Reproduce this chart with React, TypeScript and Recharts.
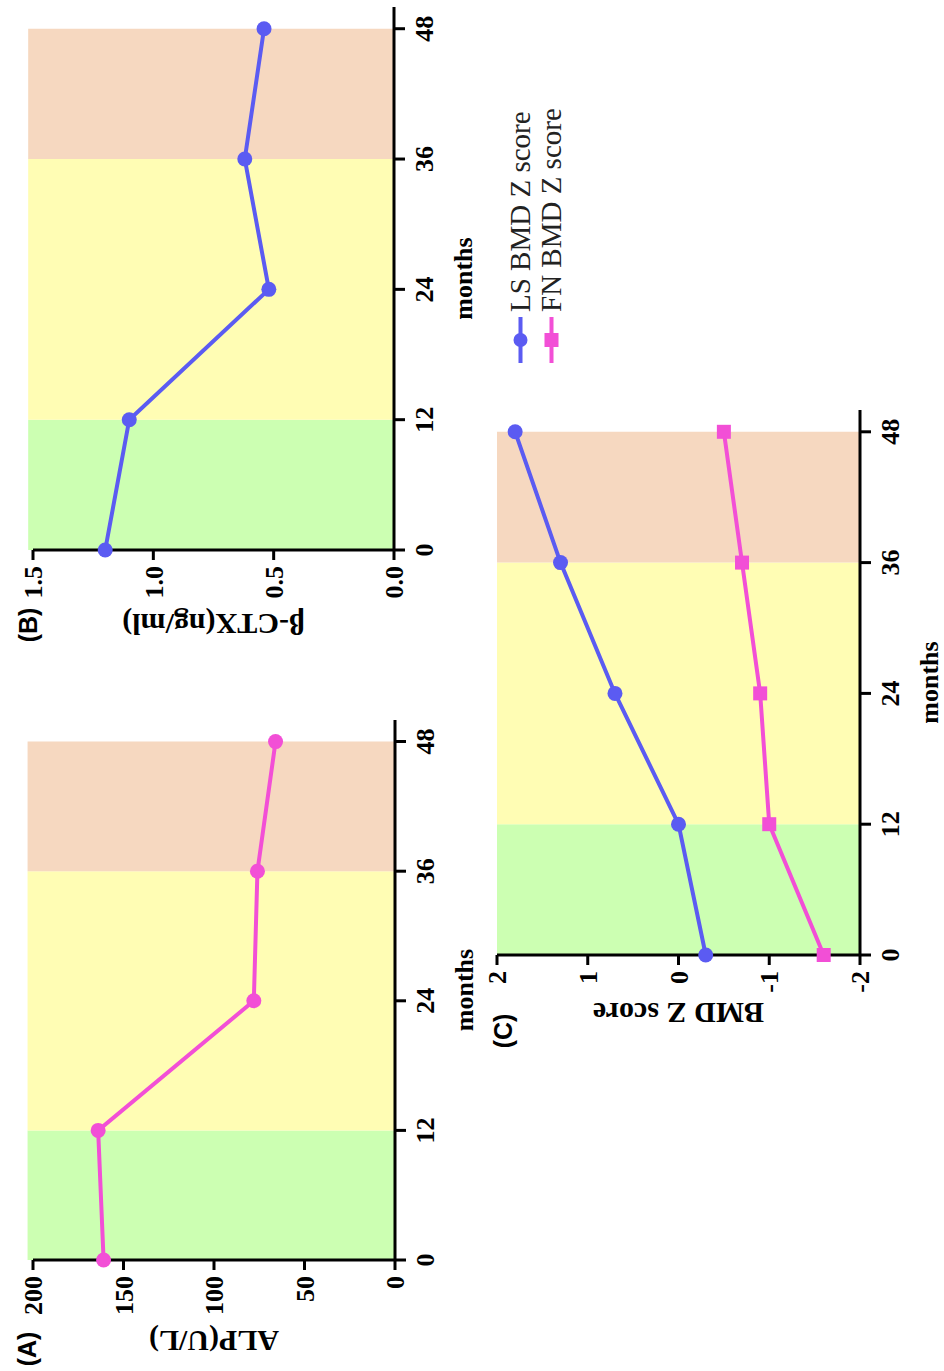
import React from 'react';
import { LineChart, Line, XAxis, YAxis, ReferenceArea, Legend } from 'recharts';

// ---- data ----
const months = [0, 12, 24, 36, 48];
const monthTicks = [0, 12, 24, 36, 48];
const alpValues = [161, 164, 78, 76, 66];
const ctxValues = [1.2, 1.1, 0.52, 0.62, 0.54];
const lsZValues = [-0.3, 0.0, 0.7, 1.3, 1.8];
const fnZValues = [-1.6, -1.0, -0.9, -0.7, -0.5];
const alpTicks = [0, 50, 100, 150, 200];
const ctxTicks = [0, 0.5, 1.0, 1.5];
const zTicks = [-2, -1, 0, 1, 2];
const legendOrder = ['ls', 'fn'];
const phases = [
  { from: 0, to: 12, color: '#CCFFB2' },
  { from: 12, to: 36, color: '#FFFDB4' },
  { from: 36, to: 48, color: '#F6D8C0' },
];

const alpData = months.map((m, i) => ({ month: m, alp: alpValues[i] }));
const ctxData = months.map((m, i) => ({ month: m, ctx: ctxValues[i] }));
const zData = months.map((m, i) => ({ month: m, ls: lsZValues[i], fn: fnZValues[i] }));

const BLUE = '#5B5BF2';
const PINK = '#F24FD6';
const SERIF = '"Liberation Serif", "Times New Roman", serif';
const SANS = '"Liberation Sans", Arial, sans-serif';

const tickStyle = { fill: '#000', fontSize: 26, fontFamily: SERIF, fontWeight: 'bold' as const };
const axisLineStyle = { stroke: '#000', strokeWidth: 3 };

const SquareDot = (props: any) => {
  const { cx, cy, index } = props;
  if (cx == null || cy == null) return null;
  return <rect key={`sq-${index}`} x={cx - 7} y={cy - 7} width={14} height={14} fill={PINK} />;
};

const LegendContent = (props: any) => {
  const items = [...(props.payload || [])].sort(
    (a: any, b: any) => legendOrder.indexOf(String(a.dataKey)) - legendOrder.indexOf(String(b.dataKey))
  );
  return (
    <div>
      {items.map((entry: any) => (
        <div key={entry.value} style={{ display: 'flex', alignItems: 'center', height: 31 }}>
          <svg width={46} height={31}>
            <line x1={0} y1={15.5} x2={46} y2={15.5} stroke={entry.color} strokeWidth={4} />
            {entry.dataKey === 'fn' ? (
              <rect x={16} y={8.5} width={14} height={14} fill={entry.color} />
            ) : (
              <circle cx={23} cy={15.5} r={7} fill={entry.color} />
            )}
          </svg>
          <span style={{ marginLeft: 5, fontFamily: SERIF, fontSize: 29, color: '#222', whiteSpace: 'nowrap', lineHeight: '31px' }}>
            {entry.value}
          </span>
        </div>
      ))}
    </div>
  );
};

const yLabelStyle = { textAnchor: 'middle' as const, fontFamily: SERIF, fontWeight: 'bold' as const, fontSize: 30, fill: '#000' };
const xLabelStyle = { fontFamily: SERIF, fontWeight: 'bold' as const, fontSize: 26, fill: '#000' };

const PanelLetter = ({ text, cx, cy }: { text: string; cx: number; cy: number }) => (
  <div
    style={{
      position: 'absolute',
      left: cx - 30,
      top: cy - 15,
      width: 60,
      height: 30,
      lineHeight: '30px',
      textAlign: 'center',
      fontFamily: SANS,
      fontWeight: 'bold',
      fontSize: 25,
      color: '#000',
    }}
  >
    {text}
  </div>
);

export default function App() {
  return (
    <div style={{ position: 'absolute', left: 0, top: 0, width: 944, height: 1371, overflow: 'hidden', background: '#fff' }}>
      <div
        style={{
          position: 'absolute',
          left: 0,
          top: 0,
          width: 1371,
          height: 944,
          transformOrigin: '0 0',
          transform: 'translate(0px, 1371px) rotate(-90deg)',
        }}
      >
        {/* Panel A */}
        <div style={{ position: 'absolute', left: 0, top: 0 }}>
          <LineChart width={700} height={500} data={alpData} margin={{ top: 33, right: 49, bottom: 45, left: 0 }}>
            {phases.map((p) => (
              <ReferenceArea key={p.from} x1={p.from} x2={p.to} y1={0} y2={203} fill={p.color} fillOpacity={1} stroke="none" ifOverflow="visible" />
            ))}
            <XAxis
              dataKey="month"
              type="number"
              domain={[0, 50]}
              ticks={monthTicks}
              height={60}
              tickSize={11}
              tickMargin={10}
              axisLine={axisLineStyle}
              tickLine={axisLineStyle}
              tick={tickStyle}
              label={{ value: 'months', position: 'bottom', offset: 0, style: xLabelStyle }}
            />
            <YAxis
              type="number"
              domain={[0, 200]}
              ticks={alpTicks}
              width={111}
              tickSize={10}
              tickMargin={6}
              axisLine={axisLineStyle}
              tickLine={axisLineStyle}
              tick={tickStyle}
              label={{ value: 'ALP(U/L)', angle: -90, position: 'insideLeft', offset: 29, style: yLabelStyle }}
            />
            <Line dataKey="alp" type="linear" stroke={PINK} strokeWidth={4} dot={{ r: 7.5, fill: PINK, stroke: 'none' }} activeDot={false} isAnimationActive={false} />
          </LineChart>
        </div>

        {/* Panel B */}
        <div style={{ position: 'absolute', left: 710, top: 0 }}>
          <LineChart width={661} height={500} data={ctxData} margin={{ top: 33, right: 7, bottom: 46, left: 0 }}>
            {phases.map((p) => (
              <ReferenceArea key={p.from} x1={p.from} x2={p.to} y1={0} y2={1.52} fill={p.color} fillOpacity={1} stroke="none" ifOverflow="visible" />
            ))}
            <XAxis
              dataKey="month"
              type="number"
              domain={[0, 50]}
              ticks={monthTicks}
              height={60}
              tickSize={11}
              tickMargin={10}
              axisLine={axisLineStyle}
              tickLine={axisLineStyle}
              tick={tickStyle}
              label={{ value: 'months', position: 'bottom', offset: 0, style: xLabelStyle }}
            />
            <YAxis
              type="number"
              domain={[0, 1.5]}
              ticks={ctxTicks}
              tickFormatter={(v: number) => v.toFixed(1)}
              width={111}
              tickSize={10}
              tickMargin={6}
              axisLine={axisLineStyle}
              tickLine={axisLineStyle}
              tick={tickStyle}
              label={{ value: 'β-CTX(ng/ml)', angle: -90, position: 'insideLeft', offset: 36, style: yLabelStyle }}
            />
            <Line dataKey="ctx" type="linear" stroke={BLUE} strokeWidth={4} dot={{ r: 7.5, fill: BLUE, stroke: 'none' }} activeDot={false} isAnimationActive={false} />
          </LineChart>
        </div>

        {/* Panel C */}
        <div style={{ position: 'absolute', left: 305, top: 464 }}>
          <LineChart width={1000} height={480} data={zData} margin={{ top: 33, right: 344, bottom: 24, left: 0 }}>
            {phases.map((p) => (
              <ReferenceArea key={p.from} x1={p.from} x2={p.to} y1={-2} y2={2} fill={p.color} fillOpacity={1} stroke="none" ifOverflow="visible" />
            ))}
            <XAxis
              dataKey="month"
              type="number"
              domain={[0, 50]}
              ticks={monthTicks}
              height={60}
              tickSize={11}
              tickMargin={10}
              axisLine={axisLineStyle}
              tickLine={axisLineStyle}
              tick={tickStyle}
              label={{ value: 'months', position: 'bottom', offset: 0, style: xLabelStyle }}
            />
            <YAxis
              type="number"
              domain={[-2, 2]}
              ticks={zTicks}
              width={111}
              tickSize={10}
              tickMargin={6}
              axisLine={axisLineStyle}
              tickLine={axisLineStyle}
              tick={tickStyle}
              label={{ value: 'BMD Z score', angle: -90, position: 'insideLeft', offset: 52, style: yLabelStyle }}
            />
            <Legend
              layout="vertical"
              align="center"
              verticalAlign="middle"
              content={<LegendContent />}
              wrapperStyle={{ left: 703, top: 41, width: 290, height: 62 }}
            />
            <Line name="LS BMD Z score" dataKey="ls" type="linear" stroke={BLUE} strokeWidth={4} dot={{ r: 7.5, fill: BLUE, stroke: 'none' }} activeDot={false} isAnimationActive={false} />
            <Line name="FN BMD Z score" dataKey="fn" type="linear" stroke={PINK} strokeWidth={4} dot={<SquareDot />} activeDot={false} isAnimationActive={false} />
          </LineChart>
        </div>

        <PanelLetter text="(A)" cx={22} cy={27} />
        <PanelLetter text="(B)" cx={746} cy={28} />
        <PanelLetter text="(C)" cx={340} cy={503} />
      </div>
    </div>
  );
}
